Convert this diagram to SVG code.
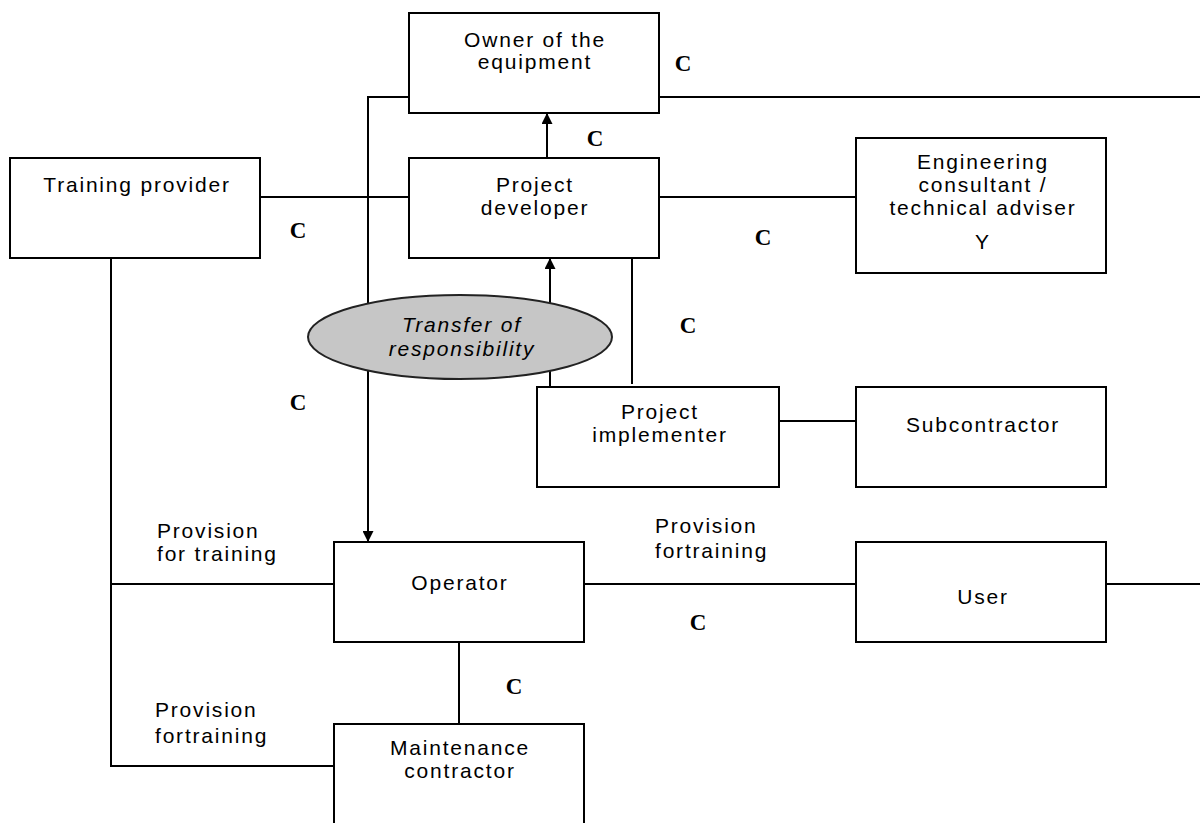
<svg xmlns="http://www.w3.org/2000/svg" width="1200" height="823" viewBox="0 0 1200 823">
<style>
.box{fill:#fff;stroke:#000;stroke-width:2}
.t{font-family:"Liberation Sans",Arial,sans-serif;font-size:21px;letter-spacing:1.8px;fill:#000;text-anchor:middle}
.tl{font-family:"Liberation Sans",Arial,sans-serif;font-size:21px;letter-spacing:1.8px;fill:#000}
.c{font-family:"Liberation Serif","Times New Roman",serif;font-size:23px;font-weight:bold;fill:#000;text-anchor:middle}
.ln{fill:none;stroke:#000;stroke-width:2}
</style>
<defs>
<marker id="ah2" viewBox="0 0 10 10" refX="10" refY="5" markerWidth="12" markerHeight="11" orient="auto" markerUnits="userSpaceOnUse">
<path d="M0,0 L10,5 L0,10 z" fill="#000"/>
</marker>
</defs>
<rect width="1200" height="823" fill="#fff"/>
<g id="connectors">
<path class="ln" d="M659,97 H1200"/>
<path class="ln" d="M409,97 H368 V542" marker-end="url(#ah2)"/>
<path class="ln" d="M547,158 V113" marker-end="url(#ah2)"/>
<path class="ln" d="M260,197 H409"/>
<path class="ln" d="M659,197 H856"/>
<path class="ln" d="M550,387 V258" marker-end="url(#ah2)"/>
<path class="ln" d="M632,258 V384"/>
<path class="ln" d="M779,421 H856"/>
<path class="ln" d="M111,258 V766 H334"/>
<path class="ln" d="M111,584 H334"/>
<path class="ln" d="M584,584 H856"/>
<path class="ln" d="M1106,584 H1200"/>
<path class="ln" d="M459,642 V724"/>
</g>
<g id="owner">
<rect class="box" x="409" y="13" width="250" height="100"/>
<text class="t" x="535" y="47">Owner of the</text>
<text class="t" x="535" y="69">equipment</text>
</g>
<g id="training-provider">
<rect class="box" x="10" y="158" width="250" height="100"/>
<text class="t" x="137" y="192">Training provider</text>
</g>
<g id="project-developer">
<rect class="box" x="409" y="158" width="250" height="100"/>
<text class="t" x="535" y="192">Project</text>
<text class="t" x="535" y="215">developer</text>
</g>
<g id="engineering-consultant">
<rect class="box" x="856" y="138" width="250" height="135"/>
<text class="t" x="983" y="169">Engineering</text>
<text class="t" x="983" y="192">consultant /</text>
<text class="t" x="983" y="215">technical adviser</text>
<text class="t" x="983" y="249">Y</text>
</g>
<g id="transfer">
<ellipse cx="460" cy="337" rx="152" ry="42" fill="#c6c6c6" stroke="#222" stroke-width="2"/>
<text class="t" x="462" y="332" font-style="italic">Transfer of</text>
<text class="t" x="462" y="356" font-style="italic">responsibility</text>
</g>
<g id="project-implementer">
<rect class="box" x="537" y="387" width="242" height="100"/>
<text class="t" x="660" y="419">Project</text>
<text class="t" x="660" y="442">implementer</text>
</g>
<g id="subcontractor">
<rect class="box" x="856" y="387" width="250" height="100"/>
<text class="t" x="983" y="432">Subcontractor</text>
</g>
<g id="operator">
<rect class="box" x="334" y="542" width="250" height="100"/>
<text class="t" x="460" y="590">Operator</text>
</g>
<g id="user">
<rect class="box" x="856" y="542" width="250" height="100"/>
<text class="t" x="983" y="604">User</text>
</g>
<g id="maintenance-contractor">
<rect class="box" x="334" y="724" width="250" height="110"/>
<text class="t" x="460" y="755">Maintenance</text>
<text class="t" x="460" y="778">contractor</text>
</g>
<g id="labels">
<text class="tl" x="157" y="538">Provision</text>
<text class="tl" x="157" y="561">for training</text>
<text class="tl" x="655" y="533">Provision</text>
<text class="tl" x="655" y="558">fortraining</text>
<text class="tl" x="155" y="717">Provision</text>
<text class="tl" x="155" y="743">fortraining</text>
<text class="c" x="683" y="71">C</text>
<text class="c" x="595" y="146">C</text>
<text class="c" x="298" y="238">C</text>
<text class="c" x="763" y="245">C</text>
<text class="c" x="688" y="333">C</text>
<text class="c" x="298" y="410">C</text>
<text class="c" x="698" y="630">C</text>
<text class="c" x="514" y="694">C</text>
</g>
</svg>
